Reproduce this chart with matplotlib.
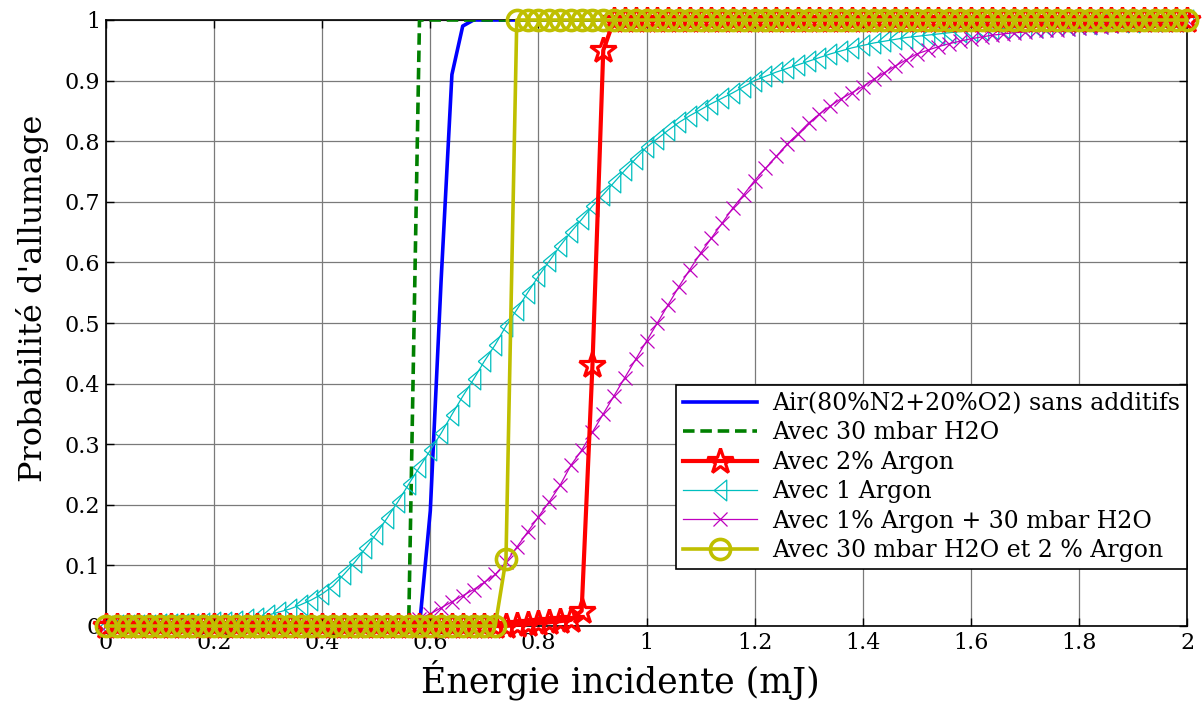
import numpy as np
import matplotlib
matplotlib.use("Agg")
import matplotlib.pyplot as plt

# ---------------- data ----------------
energy = [round(0.02 * i, 2) for i in range(101)]  # 0:0.02:2 (mJ)

air = [0.0] * 30 + [0.19, 0.57, 0.91, 0.99] + [1.0] * 67

h2o = [0.0] * 29 + [1.0] * 72

argon2 = ([0.0] * 38 +
          [0.002, 0.003, 0.005, 0.006, 0.008, 0.01, 0.025, 0.43, 0.95] +
          [1.0] * 54)

argon1 = [0.0, 0.001, 0.001, 0.002, 0.002, 0.003, 0.003, 0.004, 0.004, 0.005,
          0.006, 0.007, 0.009, 0.011, 0.014, 0.018, 0.023, 0.028, 0.035, 0.043,
          0.053, 0.066, 0.085, 0.105, 0.128, 0.152, 0.178, 0.205, 0.234, 0.262,
          0.29, 0.318, 0.349, 0.379, 0.407, 0.437, 0.464, 0.495, 0.522, 0.55,
          0.577, 0.602, 0.627, 0.65, 0.671, 0.693, 0.712, 0.732, 0.752, 0.771,
          0.79, 0.804, 0.818, 0.831, 0.842, 0.852, 0.862, 0.871, 0.88, 0.89,
          0.90, 0.907, 0.914, 0.92, 0.926, 0.932, 0.938, 0.944, 0.949, 0.954,
          0.958, 0.962, 0.965, 0.968, 0.971, 0.973, 0.975, 0.977, 0.979, 0.981,
          0.982, 0.984, 0.985, 0.986, 0.987, 0.988, 0.989, 0.99, 0.991, 0.992,
          0.993, 0.994, 0.995, 0.996, 0.996, 0.997, 0.998, 0.998, 0.999, 0.999,
          1.0]

argon1_h2o = ([0.0] * 28 +
              [0.005, 0.012, 0.02, 0.03, 0.04, 0.05, 0.06, 0.072, 0.085, 0.105,
               0.13, 0.155, 0.18, 0.205, 0.232, 0.265, 0.29, 0.32, 0.35, 0.38,
               0.41, 0.44, 0.47, 0.5, 0.53, 0.56, 0.588, 0.615, 0.64, 0.665,
               0.69, 0.712, 0.735, 0.755, 0.775, 0.795, 0.812, 0.83, 0.845, 0.858,
               0.87, 0.88, 0.89, 0.902, 0.913, 0.924, 0.934, 0.944, 0.95, 0.956,
               0.961, 0.965, 0.969, 0.972, 0.975, 0.977, 0.979, 0.98, 0.982, 0.983,
               0.984, 0.985, 0.986, 0.988, 0.989, 0.99, 0.991, 0.993, 0.994, 0.995,
               0.996, 0.998, 1.0])

h2o_argon2 = [0.0] * 37 + [0.11] + [1.0] * 63

labels = ["Air(80%N2+20%O2) sans additifs",
          "Avec 30 mbar H2O",
          "Avec 2% Argon",
          "Avec 1 Argon",
          "Avec 1% Argon + 30 mbar H2O",
          "Avec 30 mbar H2O et 2 % Argon"]

xticks = [0, 0.2, 0.4, 0.6, 0.8, 1, 1.2, 1.4, 1.6, 1.8, 2]
xticklabels = ["0", "0.2", "0.4", "0.6", "0.8", "1", "1.2", "1.4", "1.6", "1.8", "2"]
yticks = [0, 0.1, 0.2, 0.3, 0.4, 0.5, 0.6, 0.7, 0.8, 0.9, 1]
yticklabels = ["0", "0.1", "0.2", "0.3", "0.4", "0.5", "0.6", "0.7", "0.8", "0.9", "1"]

# ---------------- figure ----------------
plt.rcParams['font.family'] = ['DejaVu Serif']
fig = plt.figure(figsize=(12.03, 7.02), dpi=100)
ax = fig.add_axes([106 / 1203, 76 / 702, 1081 / 1203, 606 / 702])

tri = [(-0.6, 0.0), (0.6, 1.0), (0.6, -1.0), (-0.6, 0.0)]

ax.plot(energy, air, color=(0, 0, 1), lw=2.6, label=labels[0], zorder=3)
ax.plot(energy, h2o, color=(0, 0.5, 0), lw=2.6, ls=(0, (3.2, 1.6)), label=labels[1], zorder=3)
ax.plot(energy, argon2, color=(1, 0, 0), lw=3.0, marker='*', ms=19,
        mfc='none', mec=(1, 0, 0), mew=2.3, label=labels[2], zorder=5, clip_on=False)
ax.plot(energy, argon1, color=(0, 0.75, 0.75), lw=0.9, marker=tri, ms=15,
        mfc='none', mew=0.9, label=labels[3], zorder=4, clip_on=False)
ax.plot(energy, argon1_h2o, color=(0.75, 0, 0.75), lw=0.9, marker='x', ms=10,
        mew=0.9, label=labels[4], zorder=4, clip_on=False)
ax.plot(energy, h2o_argon2, color=(0.75, 0.75, 0), lw=2.6, marker='o', ms=14.5,
        mfc='none', mew=2.6, label=labels[5], zorder=6, clip_on=False)

ax.set_xlim(0, 2)
ax.set_ylim(0, 1)
ax.set_xticks(xticks)
ax.set_xticklabels(xticklabels)
ax.set_yticks(yticks)
ax.set_yticklabels(yticklabels)
ax.tick_params(direction='in', top=True, right=True, length=6, width=1,
               labelsize=16, colors='black', pad=4)
ax.grid(True, color='#7a7a7a', lw=0.9, ls='-')
ax.set_axisbelow(True)
for s in ax.spines.values():
    s.set_linewidth(1.2)
    s.set_zorder(2)

ax.set_xlabel("Énergie incidente (mJ)", fontsize=25)
ax.set_ylabel("Probabilité d'allumage", fontsize=23)
ax.xaxis.set_label_coords((620 - 106) / 1081, -0.056)
ax.yaxis.set_label_coords(-0.053, (626 - 298) / 606)

leg = ax.legend(loc='lower right', bbox_to_anchor=(1.0, 0.094), fontsize=17,
                handlelength=3.1, frameon=True, fancybox=False, edgecolor='black',
                framealpha=1, borderpad=0.3, labelspacing=0.27, handletextpad=0.65,
                borderaxespad=0)
leg.get_frame().set_linewidth(1.2)
leg.set_zorder(10)

fig.savefig("out.png", dpi=100)
